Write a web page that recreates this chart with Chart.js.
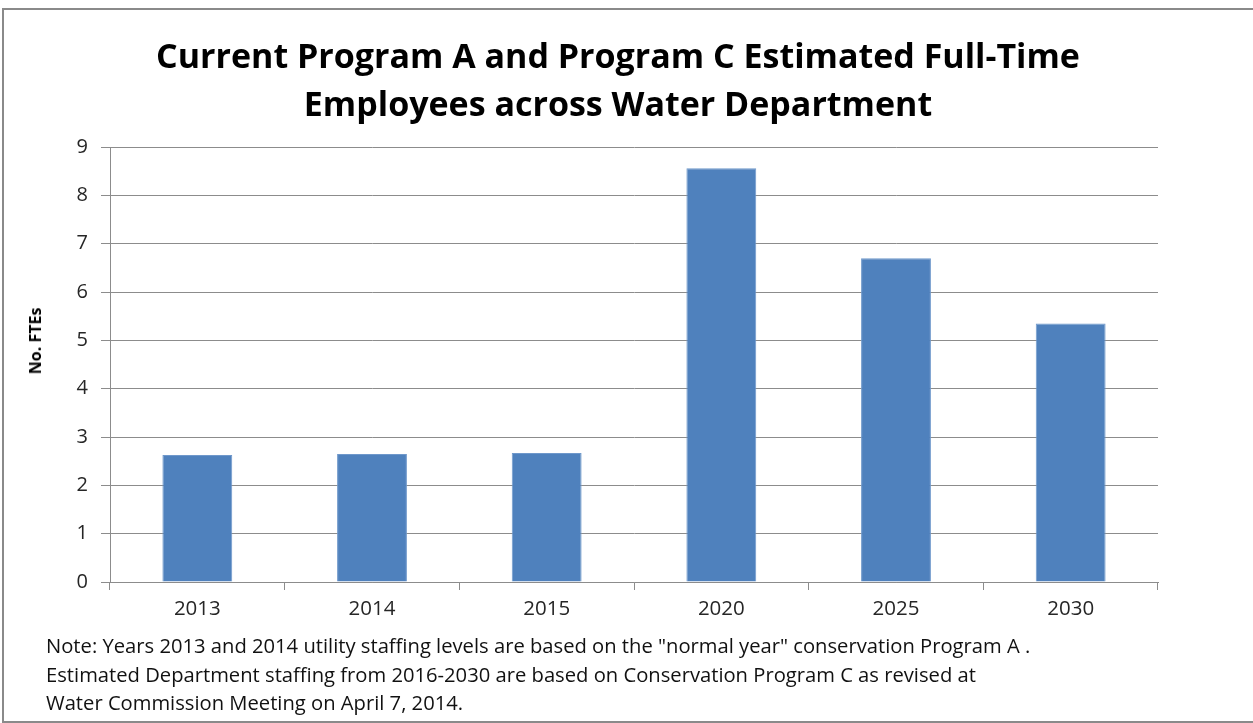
<!DOCTYPE html>
<html lang="en">
<head>
  <meta charset="UTF-8" />
  <title>Program A and Program C Estimated FTEs</title>
  <script src="https://cdn.jsdelivr.net/npm/chart.js"></script>
  <style>
    body {
      margin: 0;
      background: #ffffff;
      font-family: "Open Sans", Lato, sans-serif;
    }
    .frame {
      position: absolute;
      left: 2px;
      top: 8px;
      width: 1300px;
      height: 711px;
      border: 2px solid #8a8a8a;
    }
    #chartFte {
      position: absolute;
      left: 0;
      top: 0;
    }
    .title {
      position: absolute;
      left: 118px;
      width: 1000px;
      top: 31px;
      text-align: center;
      font-size: 34px;
      font-weight: bold;
      line-height: 48px;
      color: #000;
    }
    .ytitle {
      position: absolute;
      left: 35px;
      top: 341px;
      transform: translate(-50%, -50%) rotate(-90deg);
      font-size: 16px;
      font-weight: bold;
      white-space: nowrap;
      color: #000;
    }
    .note {
      position: absolute;
      left: 46px;
      top: 631px;
      font-size: 20.2px;
      line-height: 28.5px;
      color: #111;
      white-space: nowrap;
    }
  </style>
</head>
<body>
  <div class="frame"></div>
  <canvas id="chartFte" width="1253" height="723"></canvas>
  <div class="title">Current Program A and Program C Estimated Full-Time<br>Employees across Water Department</div>
  <div class="ytitle">No. FTEs</div>
  <div class="note">
    Note: Years 2013 and 2014 utility staffing levels are based on the "normal year" conservation Program A .<br>
    Estimated Department staffing from 2016-2030 are based on Conservation Program C as revised at<br>
    Water Commission Meeting on April 7, 2014.
  </div>

  <script>
    // data
    const years = ['2013', '2014', '2015', '2020', '2025', '2030'];
    const fteValues = [2.63, 2.65, 2.67, 8.56, 6.70, 5.35];
    const yTicks = [0, 1, 2, 3, 4, 5, 6, 7, 8, 9];

    const gridColor = '#8c8c8c';
    const textColor = '#262626';

    new Chart(document.getElementById('chartFte'), {
      type: 'bar',
      data: {
        labels: years,
        datasets: [{
          label: 'No. FTEs',
          data: fteValues,
          backgroundColor: '#4f81bd',
          borderColor: '#6f98cb',
          borderWidth: 1,
          categoryPercentage: 1,
          barPercentage: 0.4
        }]
      },
      options: {
        responsive: false,
        animation: false,
        layout: {
          padding: { top: 147, left: 0, right: 95, bottom: 0 }
        },
        plugins: {
          legend: { display: false },
          tooltip: { enabled: false }
        },
        scales: {
          x: {
            grid: {
              offset: true,
              drawOnChartArea: false,
              drawTicks: true,
              tickLength: 8,
              color: gridColor
            },
            border: { color: gridColor },
            ticks: {
              color: textColor,
              font: { family: 'Open Sans', size: 20.5 },
              padding: 7
            },
            afterFit: scale => { scale.height = 141; }
          },
          y: {
            min: 0,
            max: 9,
            afterBuildTicks: scale => { scale.ticks = yTicks.map(v => ({ value: v })); },
            grid: {
              color: gridColor,
              tickLength: 9
            },
            border: { color: gridColor },
            ticks: {
              color: textColor,
              font: { family: 'Open Sans', size: 20 },
              padding: 13
            },
            afterFit: scale => { scale.width = 110; }
          }
        }
      }
    });
  </script>
</body>
</html>
